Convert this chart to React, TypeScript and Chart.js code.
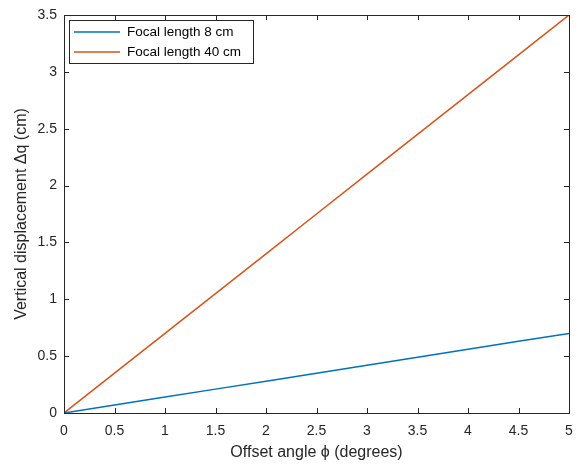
import React, { useEffect, useRef } from "react";
import { Chart, registerables } from "chart.js";

Chart.register(...registerables);

const angles = [0, 0.5, 1, 1.5, 2, 2.5, 3, 3.5, 4, 4.5, 5];
const focal8 = [0, 0.07, 0.14, 0.21, 0.28, 0.35, 0.42, 0.49, 0.56, 0.63, 0.70];
const focal40 = [0, 0.35, 0.70, 1.05, 1.40, 1.75, 2.10, 2.45, 2.80, 3.15, 3.50];
const seriesLabels = ["Focal length 8 cm", "Focal length 40 cm"];
const seriesColors = ["#0072BD", "#D95319"];
const xTicks = [0, 0.5, 1, 1.5, 2, 2.5, 3, 3.5, 4, 4.5, 5];
const yTicks = [0, 0.5, 1, 1.5, 2, 2.5, 3, 3.5];

const AXIS_COLOR = "#262626";
const FONT = "'Liberation Sans', Arial, sans-serif";

const boxPlugin = {
  id: "matlabBox",
  afterDraw(chart: any) {
    const { ctx, chartArea: a, scales } = chart;
    ctx.save();
    ctx.strokeStyle = AXIS_COLOR;
    ctx.lineWidth = 1;
    ctx.strokeRect(a.left + 0.5, a.top + 0.5, a.right - a.left, a.bottom - a.top);
    const L = 5;
    ctx.beginPath();
    for (const v of xTicks) {
      const x = Math.round(scales.x.getPixelForValue(v)) + 0.5;
      ctx.moveTo(x, a.bottom);
      ctx.lineTo(x, a.bottom - L);
      ctx.moveTo(x, a.top);
      ctx.lineTo(x, a.top + L);
    }
    for (const v of yTicks) {
      const y = Math.round(scales.y.getPixelForValue(v)) + 0.5;
      ctx.moveTo(a.left, y);
      ctx.lineTo(a.left + L, y);
      ctx.moveTo(a.right, y);
      ctx.lineTo(a.right - L, y);
    }
    ctx.stroke();

    // legend
    const lx = a.left + 5;
    const ly = a.top + 5;
    const lw = 184;
    const lh = 43;
    ctx.fillStyle = "#ffffff";
    ctx.fillRect(lx, ly, lw, lh);
    ctx.strokeStyle = AXIS_COLOR;
    ctx.strokeRect(lx + 0.5, ly + 0.5, lw, lh);
    ctx.font = `13.5px ${FONT}`;
    ctx.textBaseline = "middle";
    ctx.textAlign = "left";
    seriesLabels.forEach((lab, i) => {
      const yy = ly + 12 + i * 20;
      ctx.strokeStyle = seriesColors[i];
      ctx.lineWidth = 1.5;
      ctx.beginPath();
      ctx.moveTo(lx + 5, yy);
      ctx.lineTo(lx + 51, yy);
      ctx.stroke();
      ctx.fillStyle = "#000000";
      ctx.fillText(lab, lx + 58, yy + 0.5);
    });
    ctx.restore();
  },
};

export default function App() {
  const ref = useRef<HTMLCanvasElement>(null);
  useEffect(() => {
    document.body.style.margin = "0";
    const chart = new Chart(ref.current!, {
      type: "line",
      data: {
        datasets: [
          {
            label: seriesLabels[0],
            data: angles.map((x, i) => ({ x, y: focal8[i] })),
            borderColor: seriesColors[0],
            borderWidth: 1.5,
            pointRadius: 0,
            tension: 0,
          },
          {
            label: seriesLabels[1],
            data: angles.map((x, i) => ({ x, y: focal40[i] })),
            borderColor: seriesColors[1],
            borderWidth: 1.5,
            pointRadius: 0,
            tension: 0,
          },
        ],
      },
      options: {
        animation: false,
        responsive: false,
        layout: { padding: { top: 15, right: 8, left: 0, bottom: 0 } },
        plugins: { legend: { display: false }, tooltip: { enabled: false } },
        scales: {
          x: {
            type: "linear",
            min: 0,
            max: 5,
            afterBuildTicks: (s: any) => {
              s.ticks = xTicks.map((v) => ({ value: v }));
            },
            afterFit: (s: any) => {
              s.height = 51;
              s.paddingLeft = 0;
              s.paddingRight = 0;
            },
            grid: { display: false, drawTicks: false },
            border: { display: false },
            ticks: {
              color: AXIS_COLOR,
              font: { family: FONT, size: 14 },
              padding: 10,
              maxRotation: 0,
              autoSkip: false,
              callback: (v: any) => String(v),
            },
            title: {
              display: true,
              text: "Offset angle \u03D5 (degrees)",
              color: AXIS_COLOR,
              font: { family: FONT, size: 16 },
              padding: { top: 2, bottom: 2 },
            },
          },
          y: {
            type: "linear",
            min: 0,
            max: 3.5,
            afterBuildTicks: (s: any) => {
              s.ticks = yTicks.map((v) => ({ value: v }));
            },
            afterFit: (s: any) => {
              s.width = 64;
              s.paddingTop = 0;
              s.paddingBottom = 0;
            },
            grid: { display: false, drawTicks: false },
            border: { display: false },
            ticks: {
              color: AXIS_COLOR,
              font: { family: FONT, size: 14 },
              padding: 7,
              autoSkip: false,
              callback: (v: any) => String(v),
            },
            title: {
              display: true,
              text: "Vertical displacement \u0394q (cm)",
              color: AXIS_COLOR,
              font: { family: FONT, size: 16 },
              padding: { top: 12, bottom: 6 },
            },
          },
        },
      },
      plugins: [boxPlugin],
    });
    return () => chart.destroy();
  }, []);
  return <canvas ref={ref} width={577} height={464} style={{ display: "block" }} />;
}
